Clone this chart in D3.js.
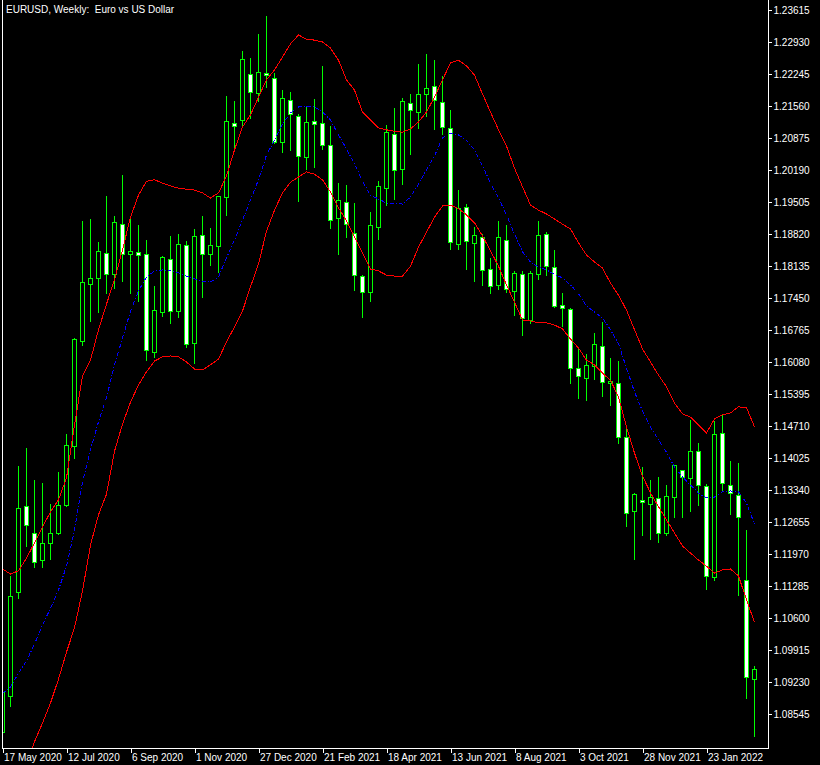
<!DOCTYPE html>
<html><head><meta charset="utf-8">
<script src="https://cdn.jsdelivr.net/npm/d3@7"></script>
<style>
html,body{margin:0;padding:0;background:#000;}
svg{display:block;}
text{font-family:"Liberation Sans",Arial,sans-serif;}
</style></head><body>
<svg id="c" width="820" height="765"></svg>
<script>
const title = "EURUSD, Weekly:  Euro vs US Dollar";
const firstWeek = "2020-05-17";

const open = [
1.0817,1.0894,1.1116,1.1300,1.1241,1.1184,1.1220,1.1243,1.1302,1.1428,
1.1652,1.1776,1.1788,1.1841,1.1796,1.1903,1.1840,1.1844,1.1840,1.1630,
1.1716,1.1828,1.1718,1.1858,1.1648,1.1880,1.1840,1.1857,1.1962,1.2120,
1.2125,1.2224,1.2183,1.2227,1.2217,1.2080,1.2168,1.2135,1.2046,1.2123,
1.2120,1.2072,1.1917,1.1950,1.1884,1.1792,1.1757,1.1897,1.1980,1.2097,
1.2021,1.2163,1.2143,1.2181,1.2199,1.2164,1.2108,1.1860,1.1939,1.1862,
1.1875,1.1808,1.1772,1.1870,1.1761,1.1796,1.1698,1.1796,1.1881,1.1812,
1.1729,1.1722,1.1596,1.1573,1.1600,1.1642,1.1564,1.1563,1.1447,1.1288,
1.1312,1.1304,1.1316,1.1241,1.1318,1.1376,1.1360,1.1417,1.1342,1.1147,
1.1455,1.1344,1.1323,1.1141,1.0929];
const high = [
1.1010,1.1152,1.1388,1.1425,1.1357,1.1351,1.1306,1.1375,1.1455,1.1662,
1.1912,1.1916,1.1867,1.1966,1.1923,1.2011,1.1920,1.1903,1.1872,1.1773,
1.1836,1.1880,1.1884,1.1870,1.1894,1.1923,1.1896,1.1966,1.2179,1.2168,
1.2276,1.2260,1.2312,1.2350,1.2228,1.2192,1.2188,1.2142,1.2155,1.2173,
1.2243,1.2115,1.1993,1.1990,1.1950,1.1796,1.1931,1.1998,1.2117,1.2154,
1.2175,1.2183,1.2248,1.2269,1.2257,1.2222,1.2150,1.1978,1.1948,1.1899,
1.1885,1.1832,1.1912,1.1903,1.1806,1.1804,1.1806,1.1912,1.1888,1.1849,
1.1758,1.1725,1.1642,1.1627,1.1672,1.1695,1.1619,1.1612,1.1466,1.1330,
1.1385,1.1358,1.1364,1.1347,1.1388,1.1380,1.1485,1.1436,1.1348,1.1484,
1.1498,1.1398,1.1393,1.1250,1.0959];
const low = [
1.0815,1.0872,1.1103,1.1214,1.1170,1.1170,1.1187,1.1240,1.1300,1.1402,
1.1645,1.1696,1.1714,1.1756,1.1766,1.1782,1.1755,1.1739,1.1612,1.1618,
1.1707,1.1691,1.1705,1.1641,1.1605,1.1748,1.1816,1.1801,1.1923,1.2060,
1.2113,1.2130,1.2166,1.2196,1.2076,1.2057,1.2061,1.1953,1.2022,1.2025,
1.2065,1.1895,1.1839,1.1876,1.1763,1.1705,1.1739,1.1872,1.1944,1.1957,
1.1988,1.2054,1.2108,1.2135,1.2107,1.2095,1.1849,1.1849,1.1808,1.1782,
1.1773,1.1755,1.1765,1.1757,1.1708,1.1666,1.1691,1.1785,1.1795,1.1726,
1.1685,1.1564,1.1530,1.1527,1.1572,1.1535,1.1515,1.1435,1.1258,1.1187,
1.1237,1.1230,1.1223,1.1237,1.1276,1.1276,1.1288,1.1302,1.1123,1.1141,
1.1333,1.1282,1.1109,1.0888,1.0808];
const close = [
1.0902,1.1107,1.1295,1.1259,1.1179,1.1220,1.1243,1.1301,1.1430,1.1657,
1.1779,1.1787,1.1846,1.1797,1.1907,1.1839,1.1845,1.1838,1.1633,1.1719,
1.1832,1.1717,1.1860,1.1646,1.1877,1.1839,1.1858,1.1964,1.2123,1.2113,
1.2256,1.2185,1.2228,1.2222,1.2078,1.2173,1.2138,1.2050,1.2121,1.2118,
1.2072,1.1911,1.1954,1.1904,1.1794,1.1757,1.1901,1.1984,1.2100,1.2020,
1.2166,1.2147,1.2182,1.2194,1.2168,1.2110,1.1864,1.1938,1.1866,1.1879,
1.1806,1.1770,1.1875,1.1764,1.1798,1.1702,1.1798,1.1879,1.1813,1.1728,
1.1723,1.1595,1.1577,1.1601,1.1646,1.1565,1.1568,1.1447,1.1284,1.1325,
1.1308,1.1319,1.1241,1.1321,1.1387,1.1361,1.1417,1.1344,1.1149,1.1453,
1.1350,1.1327,1.1276,1.0933,1.0950];

const bandUpper = [
1.1165,1.1154,1.1161,1.1188,1.1221,1.1255,1.1287,1.1313,1.1360,1.1473,
1.1578,1.1612,1.1677,1.1732,1.1784,1.1848,1.1918,1.1965,1.1995,1.1998,
1.1991,1.1985,1.1980,1.1978,1.1976,1.1970,1.1959,1.1970,1.2006,1.2062,
1.2111,1.2137,1.2175,1.2212,1.2233,1.2261,1.2289,1.2308,1.2299,1.2297,
1.2293,1.2280,1.2254,1.2212,1.2190,1.2143,1.2126,1.2109,1.2105,1.2102,
1.2100,1.2107,1.2122,1.2143,1.2175,1.2212,1.2248,1.2254,1.2242,1.2222,
1.2182,1.2143,1.2105,1.2070,1.2023,1.1983,1.1944,1.1933,1.1925,1.1914,
1.1903,1.1893,1.1863,1.1837,1.1822,1.1809,1.1777,1.1751,1.1719,1.1677,
1.1636,1.1608,1.1580,1.1555,1.1520,1.1497,1.1490,1.1473,1.1456,1.1486,
1.1495,1.1499,1.1512,1.1510,1.1469];
const bandMiddle = [
1.0899,1.0912,1.0942,1.0968,1.1004,1.1045,1.1081,1.1120,1.1171,1.1248,
1.1351,1.1420,1.1480,1.1531,1.1602,1.1659,1.1717,1.1760,1.1790,1.1803,
1.1805,1.1803,1.1799,1.1792,1.1786,1.1781,1.1779,1.1790,1.1831,1.1869,
1.1912,1.1955,1.1998,1.2051,1.2083,1.2118,1.2141,1.2154,1.2156,1.2154,
1.2143,1.2126,1.2094,1.2064,1.2032,1.1995,1.1965,1.1957,1.1948,1.1948,
1.1946,1.1961,1.1989,1.2019,1.2049,1.2088,1.2098,1.2094,1.2083,1.2062,
1.2028,1.1991,1.1959,1.1923,1.1882,1.1844,1.1822,1.1811,1.1805,1.1796,
1.1788,1.1773,1.1754,1.1728,1.1715,1.1702,1.1677,1.1647,1.1595,1.1544,
1.1503,1.1469,1.1441,1.1415,1.1383,1.1362,1.1345,1.1327,1.1317,1.1319,
1.1330,1.1332,1.1330,1.1306,1.1261];
const bandLower = [
1.0634,1.0670,1.0724,1.0747,1.0795,1.0835,1.0878,1.0929,1.0987,1.1039,
1.1118,1.1216,1.1281,1.1325,1.1417,1.1475,1.1522,1.1559,1.1587,1.1610,
1.1619,1.1621,1.1619,1.1608,1.1593,1.1591,1.1602,1.1614,1.1651,1.1683,
1.1717,1.1769,1.1818,1.1888,1.1933,1.1970,1.1993,1.2004,1.2015,1.2010,
1.1998,1.1972,1.1938,1.1910,1.1876,1.1841,1.1807,1.1803,1.1794,1.1792,
1.1792,1.1813,1.1854,1.1886,1.1918,1.1942,1.1944,1.1936,1.1923,1.1906,
1.1878,1.1846,1.1813,1.1773,1.1736,1.1698,1.1696,1.1692,1.1692,1.1687,
1.1679,1.1657,1.1638,1.1612,1.1602,1.1584,1.1569,1.1533,1.1469,1.1413,
1.1364,1.1328,1.1298,1.1270,1.1242,1.1214,1.1199,1.1184,1.1171,1.1156,
1.1163,1.1165,1.1150,1.1099,1.1051];

const priceTicks = [1.23615,1.22930,1.22245,1.21560,1.20875,1.20190,1.19505,1.18820,1.18135,1.17450,1.16765,1.16080,1.15395,1.14710,1.14025,1.13340,1.12655,1.11970,1.11285,1.10600,1.09915,1.09230,1.08545];
const dateTickLabels = ["17 May 2020","12 Jul 2020","6 Sep 2020","1 Nov 2020","27 Dec 2020","21 Feb 2021","18 Apr 2021","13 Jun 2021","8 Aug 2021","3 Oct 2021","28 Nov 2021","23 Jan 2022"];

// ---- drawing ----
const svg = d3.select("#c");
const n = open.length;
const start = new Date(firstWeek + "T00:00:00Z");
const weeks = d3.utcWeek.range(start, d3.utcWeek.offset(start, n));
const keys = weeks.map(d => +d);

const plotRight = 768, plotBottom = 748;
const x = d3.scalePoint().domain(keys).range([2.5, 2.5 + 8 * (n - 1)]).padding(0);
const y = d3.scaleLinear().domain([1.08545, 1.23615]).range([714, 10]);
const Y = v => Math.round(y(v)) + 0.5;

const GREEN = "#00ff00";

svg.append("rect").attr("width", 820).attr("height", 765).attr("fill", "#000");

svg.append("defs").append("clipPath").attr("id", "clip")
  .append("rect").attr("x", 2).attr("y", 0).attr("width", plotRight - 2).attr("height", plotBottom);

const candles = d3.range(n).map(i => ({k: keys[i], o: open[i], h: high[i], l: low[i], c: close[i]}));

const g = svg.append("g").attr("clip-path", "url(#clip)").attr("shape-rendering", "crispEdges");

// wicks
g.selectAll("line.wick").data(candles).join("line")
  .attr("x1", d => x(d.k)).attr("x2", d => x(d.k))
  .attr("y1", d => Y(d.h)).attr("y2", d => Y(d.l))
  .attr("stroke", GREEN).attr("stroke-width", 1);

// bodies
g.selectAll("path.body").data(candles).join("path")
  .attr("d", d => {
    const t = Y(Math.max(d.o, d.c)), b = Y(Math.min(d.o, d.c));
    const x0 = x(d.k) - 2;
    return `M${x0},${t}H${x0 + 4}V${b}H${x0}Z`;
  })
  .attr("fill", d => d.c >= d.o ? "#000" : "#fff")
  .attr("stroke", GREEN).attr("stroke-width", 1);

// Bollinger bands
const line = d3.line().x((v, i) => x(keys[i])).y(v => y(v));
const bands = svg.append("g").attr("clip-path", "url(#clip)").attr("fill", "none").attr("shape-rendering", "crispEdges");
bands.append("path").attr("d", line(bandUpper)).attr("stroke", "#ff0000").attr("stroke-width", 1);
bands.append("path").attr("d", line(bandLower)).attr("stroke", "#ff0000").attr("stroke-width", 1);
bands.append("path").attr("d", line(bandMiddle)).attr("stroke", "#0000ff").attr("stroke-width", 1)
  .attr("stroke-dasharray", "4,2,1,2");

// frame
const frame = svg.append("g").attr("stroke", "#fff").attr("shape-rendering", "crispEdges");
frame.append("line").attr("x1", 2.5).attr("x2", 2.5).attr("y1", 0).attr("y2", plotBottom + 0.5);
frame.append("line").attr("x1", 2).attr("x2", plotRight + 1).attr("y1", plotBottom + 0.5).attr("y2", plotBottom + 0.5);

// right price axis
const yAxis = d3.axisRight(y).tickValues(priceTicks).tickFormat(d3.format(".5f")).tickSize(3).tickPadding(2);
const ya = svg.append("g").attr("transform", `translate(${plotRight + 0.5},0)`).call(yAxis);
ya.select(".domain").attr("stroke", "#fff").attr("d", `M0,0V${plotBottom + 0.5}`).attr("shape-rendering", "crispEdges");
ya.selectAll(".tick line").attr("stroke", "#fff").attr("shape-rendering", "crispEdges");
ya.selectAll(".tick").attr("transform", d => `translate(0,${Math.round(y(d)) + 0.5})`);
ya.selectAll(".tick text").attr("fill", "#fff").attr("font-size", "10px")
  .attr("font-family", "'Liberation Sans', Arial, sans-serif");

// bottom date axis
const tickKeys = dateTickLabels.map((_, j) => keys[j * 8]);
const xAxis = d3.axisBottom(x).tickValues(tickKeys).tickFormat((d, j) => dateTickLabels[j]).tickSize(4).tickPadding(1);
const xa = svg.append("g").attr("transform", `translate(0,${plotBottom + 0.5})`).call(xAxis);
xa.select(".domain").remove();
xa.selectAll(".tick line").attr("stroke", "#fff").attr("shape-rendering", "crispEdges");
xa.selectAll(".tick text").attr("fill", "#fff").attr("font-size", "10px").attr("text-anchor", "start")
  .attr("x", 1).attr("font-family", "'Liberation Sans', Arial, sans-serif");

// title
svg.append("text").attr("x", 6).attr("y", 13).attr("fill", "#fff").attr("font-size", "10px")
  .style("white-space", "pre").attr("xml:space", "preserve").text(title);
</script>
</body></html>
